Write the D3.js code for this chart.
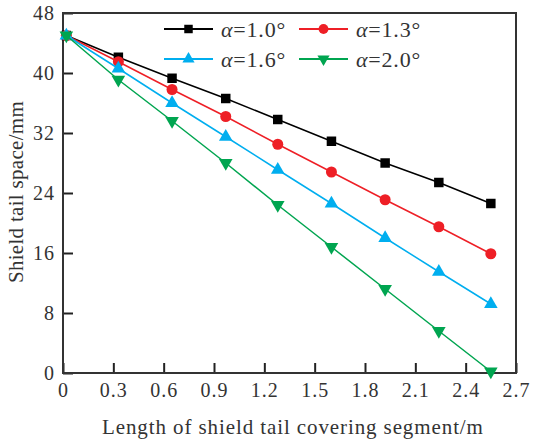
<!DOCTYPE html>
<html><head><meta charset="utf-8">
<script src="https://cdn.jsdelivr.net/npm/d3@7"></script>
<style>body{margin:0;background:#fff}svg{display:block}</style>
</head><body><svg id="c" width="534" height="440"></svg>
<script>
const xValues = [0.02, 0.33, 0.65, 0.97, 1.28, 1.60, 1.92, 2.24, 2.55];
const alpha10 = [45, 42.1, 39.3, 36.6, 33.8, 30.9, 28.0, 25.4, 22.6];
const alpha13 = [45, 41.5, 37.8, 34.2, 30.5, 26.8, 23.1, 19.5, 15.9];
const alpha16 = [45, 40.6, 36.0, 31.5, 27.1, 22.6, 18.0, 13.5, 9.2];
const alpha20 = [45, 39.1, 33.6, 28.0, 22.4, 16.8, 11.2, 5.6, 0.2];
const seriesNames = ["1.0°", "1.3°", "1.6°", "2.0°"];
const xTicks = [0, 0.3, 0.6, 0.9, 1.2, 1.5, 1.8, 2.1, 2.4, 2.7];
const yTicks = [0, 8, 16, 24, 32, 40, 48];
const xTitle = "Length of shield tail covering segment/m";
const yTitle = "Shield tail space/mm";

const FONT = "'Liberation Serif', 'Times New Roman', Times, serif";
const svg = d3.select("#c");
const L = 63, R = 516, T = 13, B = 373;
const x = d3.scaleLinear().domain([0, 2.7]).range([L, R]);
const y = d3.scaleLinear().domain([0, 48]).range([B, T]);

const series = [
  {name: seriesNames[0], values: alpha10, color: "#000000", shape: d3.symbolSquare, size: 90, rot: 0},
  {name: seriesNames[1], values: alpha13, color: "#ee1f26", shape: d3.symbolCircle, size: 95, rot: 0},
  {name: seriesNames[2], values: alpha16, color: "#00aeef", shape: d3.symbolTriangle, size: 80, rot: 0},
  {name: seriesNames[3], values: alpha20, color: "#00a550", shape: d3.symbolTriangle, size: 80, rot: 180}
];

const xAxis = d3.axisBottom(x).tickValues(xTicks).tickSize(-10).tickPadding(10)
  .tickFormat(d => d === 0 ? "0" : d3.format(".1f")(d));
const yAxis = d3.axisLeft(y).tickValues(yTicks).tickSize(-10).tickPadding(8).tickFormat(d3.format("d"));

const gx = svg.append("g").attr("transform", `translate(0,${B})`).call(xAxis);
const gy = svg.append("g").attr("transform", `translate(${L},0)`).call(yAxis);
[gx, gy].forEach(g => {
  g.attr("font-family", null).attr("font-size", null);
  g.select(".domain").remove();
  g.selectAll(".tick line").attr("stroke", "#222").attr("stroke-width", 2);
  g.selectAll(".tick text").style("font-family", FONT).style("font-size", "20px")
    .style("letter-spacing", "1px").attr("fill", "#333");
});
gy.selectAll(".tick text").attr("dy", "0.34em");
gx.selectAll(".tick text").attr("dy", "0.72em");

svg.append("rect").attr("x", L).attr("y", T).attr("width", R - L).attr("height", B - T)
  .attr("fill", "none").attr("stroke", "#333").attr("stroke-width", 2);

const line = d3.line().x((d, i) => x(xValues[i])).y(d => y(d));
series.forEach(s => {
  svg.append("path").datum(s.values).attr("d", line).attr("fill", "none")
    .attr("stroke", s.color).attr("stroke-width", 1.5);
  svg.append("g").selectAll("path").data(s.values).join("path")
    .attr("d", d3.symbol().type(s.shape).size(s.size))
    .attr("transform", (d, i) => `translate(${x(xValues[i])},${y(d)}) rotate(${s.rot})`)
    .attr("fill", s.color);
});

const legPos = [[164, 29], [299, 29], [164, 59], [299, 59]];
series.forEach((s, i) => {
  const [lx, ly] = legPos[i];
  const g = svg.append("g").attr("transform", `translate(${lx},${ly})`);
  g.append("line").attr("x1", 0).attr("x2", 49).attr("y1", 0).attr("y2", 0)
    .attr("stroke", s.color).attr("stroke-width", 2);
  g.append("path").attr("d", d3.symbol().type(s.shape).size(s.size * 0.8))
    .attr("transform", `translate(24.5,0) rotate(${s.rot})`).attr("fill", s.color);
  const t = g.append("text").attr("x", 57).attr("y", 0).attr("dy", "0.35em")
    .attr("fill", "#333").style("font-family", FONT)
    .style("font-size", "22px").style("letter-spacing", "0.8px");
  t.append("tspan").style("font-style", "italic").text("α");
  t.append("tspan").text("=" + s.name);
});

svg.append("text").attr("x", 102).attr("y", 434).attr("fill", "#333").style("font-family", FONT)
  .style("font-size", "21px").style("letter-spacing", "0.9px").text(xTitle);
svg.append("text").attr("transform", "translate(23,192) rotate(-90)").attr("text-anchor", "middle")
  .attr("fill", "#333").style("font-family", FONT)
  .style("font-size", "21px").style("letter-spacing", "0.3px").text(yTitle);
</script></body></html>
